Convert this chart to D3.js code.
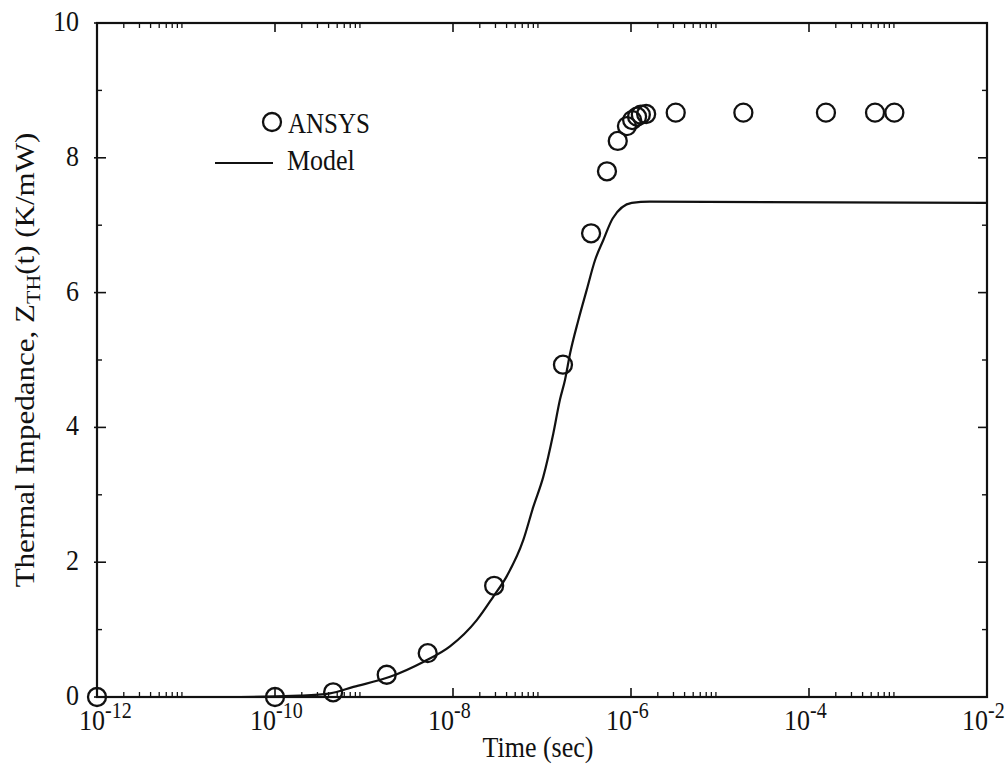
<!DOCTYPE html>
<html>
<head>
<meta charset="utf-8">
<script src="https://cdn.jsdelivr.net/npm/d3@7"></script>
<style>
  html, body { margin: 0; padding: 0; background: #fff; }
  svg { display: block; font-family: "Liberation Serif", "Times New Roman", serif; }
</style>
</head>
<body>
<svg id="chart" width="1005" height="771"></svg>
<script>
// ANSYS simulation points: time (s) and thermal impedance (K/mW)
const ansysTime = [1e-12, 1e-10, 4.5e-10, 1.8e-9, 5.2e-9, 2.9e-8, 1.72e-7, 3.56e-7, 5.37e-7,
                   7.1e-7, 9.0e-7, 1.03e-6, 1.17e-6, 1.29e-6, 1.48e-6, 3.18e-6, 1.83e-5,
                   1.55e-4, 5.52e-4, 9.1e-4];
const ansysZ    = [0, 0, 0.07, 0.33, 0.65, 1.65, 4.93, 6.88, 7.80,
                   8.25, 8.47, 8.56, 8.61, 8.64, 8.65, 8.67, 8.67,
                   8.67, 8.67, 8.67];

// Compact model response
const modelTime = [1e-12, 4.1e-11, 1.9e-10, 4.15e-10, 7.6e-10, 1.96e-9, 4.63e-9, 9.25e-9,
                   1.85e-8, 2.84e-8, 4.01e-8, 6.17e-8, 7.98e-8, 1.035e-7, 1.34e-7, 1.59e-7,
                   1.81e-7, 2.07e-7, 2.56e-7, 3.18e-7, 3.94e-7, 4.89e-7, 6.22e-7, 1.02e-6,
                   1.63e-6, 1e-2];
const modelZ    = [0, 0, 0.02, 0.055, 0.15, 0.30, 0.52, 0.75,
                   1.14, 1.49, 1.79, 2.33, 2.82, 3.27, 3.91, 4.41,
                   4.70, 5.10, 5.59, 6.04, 6.48, 6.78, 7.10, 7.33,
                   7.35, 7.33];

// Axis ticks
const xMajorExp = [-12, -10, -8, -6, -4, -2];
const yMajor = [0, 2, 4, 6, 8, 10];
const yMinor = [1, 3, 5, 7, 9];

const svg = d3.select("#chart");
const plotL = 97, plotR = 987, plotT = 23, plotB = 697;
const STRETCH = 1.15;   // lettering is set tall and narrow

const x = d3.scaleLog().domain([1e-12, 1e-2]).range([plotL, plotR]);
const y = d3.scaleLinear().domain([0, 10]).range([plotB, plotT]);

// minor ticks 2..9 inside each labelled decade
const xMinor = [];
xMajorExp.slice(0, -1).forEach(e => {
  for (let k = 2; k <= 9; k++) xMinor.push(k * Math.pow(10, e));
});

const ink = "#111";

// horizontal text with the tall lettering
function label(px, py, str, size, anchor) {
  return svg.append("text")
    .attr("transform", `translate(${px},${py}) scale(1,${STRETCH})`)
    .attr("text-anchor", anchor || "start")
    .attr("font-size", size).attr("fill", ink)
    .text(str);
}

// frame
svg.append("rect")
  .attr("x", plotL).attr("y", plotT)
  .attr("width", plotR - plotL).attr("height", plotB - plotT)
  .attr("fill", "none").attr("stroke", ink).attr("stroke-width", 2.2);

const g = svg.append("g").attr("stroke", ink);

// x ticks (bottom and top, pointing inward)
xMajorExp.forEach(e => {
  const px = x(Math.pow(10, e));
  g.append("line").attr("x1", px).attr("x2", px).attr("y1", plotB).attr("y2", plotB - 9).attr("stroke-width", 1.6);
  g.append("line").attr("x1", px).attr("x2", px).attr("y1", plotT).attr("y2", plotT + 9).attr("stroke-width", 1.6);
});
xMinor.forEach(v => {
  const px = x(v);
  g.append("line").attr("x1", px).attr("x2", px).attr("y1", plotB).attr("y2", plotB - 5).attr("stroke-width", 1.3);
  g.append("line").attr("x1", px).attr("x2", px).attr("y1", plotT).attr("y2", plotT + 5).attr("stroke-width", 1.3);
});

// y ticks (left and right)
yMajor.forEach(v => {
  const py = y(v);
  g.append("line").attr("x1", plotL - 3).attr("x2", plotL + 9).attr("y1", py).attr("y2", py).attr("stroke-width", 1.6);
  g.append("line").attr("x1", plotR - 9).attr("x2", plotR).attr("y1", py).attr("y2", py).attr("stroke-width", 1.6);
});
yMinor.forEach(v => {
  const py = y(v);
  g.append("line").attr("x1", plotL).attr("x2", plotL + 5).attr("y1", py).attr("y2", py).attr("stroke-width", 1.4);
  g.append("line").attr("x1", plotR - 5).attr("x2", plotR).attr("y1", py).attr("y2", py).attr("stroke-width", 1.4);
});

// x tick labels: base "10" ends at the tick, exponent raised after it;
// the first one is nudged right to clear the "0" of the y axis
xMajorExp.forEach((e, i) => {
  const px = x(Math.pow(10, e)) + (i === 0 ? 8 : 1);
  label(px, 730, "10", 26, "end");
  label(px, 718, String(e), 20, "start");
});

// y tick labels
yMajor.forEach(v => {
  label(79, y(v) + 8, v, 26, "end");
});

// axis titles
label(538, 757, "Time (sec)", 26, "middle");

const yt = svg.append("text")
  .attr("transform", `translate(34,360) rotate(-90) scale(${STRETCH},1)`)
  .attr("text-anchor", "middle")
  .attr("font-size", 27).attr("fill", ink);
yt.append("tspan").text("Thermal Impedance, Z");
yt.append("tspan").attr("font-size", 19).attr("dy", 6).text("TH");
yt.append("tspan").attr("dy", -6).text("(t) (K/mW)");

// model curve
const line = d3.line()
  .x((d, i) => x(modelTime[i]))
  .y((d, i) => y(modelZ[i]))
  .curve(d3.curveMonotoneX);
svg.append("path")
  .datum(modelZ)
  .attr("d", line)
  .attr("fill", "none")
  .attr("stroke", ink)
  .attr("stroke-width", 2.2)
  .attr("stroke-linejoin", "round");

// ANSYS markers
svg.append("g")
  .selectAll("circle")
  .data(ansysZ)
  .join("circle")
  .attr("cx", (d, i) => x(ansysTime[i]))
  .attr("cy", d => y(d))
  .attr("r", 9)
  .attr("fill", "none")
  .attr("stroke", ink)
  .attr("stroke-width", 2.3);

// legend
svg.append("circle")
  .attr("cx", 272).attr("cy", 122).attr("r", 9)
  .attr("fill", "none").attr("stroke", ink).attr("stroke-width", 2.3);
label(288, 133, "ANSYS", 25);
svg.append("line")
  .attr("x1", 215).attr("x2", 273).attr("y1", 163).attr("y2", 163)
  .attr("stroke", ink).attr("stroke-width", 2);
label(287, 170, "Model", 26);
</script>
</body>
</html>
